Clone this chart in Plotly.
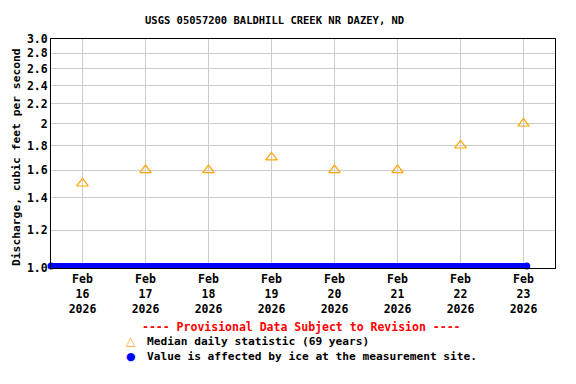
import plotly.graph_objects as go
import numpy as np

# Data
median_dates = ["2026-02-16", "2026-02-17", "2026-02-18", "2026-02-19",
                "2026-02-20", "2026-02-21", "2026-02-22", "2026-02-23"]
median_values = [1.5, 1.6, 1.6, 1.7, 1.6, 1.6, 1.8, 2.0]

ice_times = ["2026-02-15 12:00", "2026-02-23 01:15"]
ice_values = [1.01, 1.01]

y_tick_vals = [1.0, 1.2, 1.4, 1.6, 1.8, 2.0, 2.2, 2.4, 2.6, 2.8, 3.0]
y_tick_text = ["1.0", "1.2", "1.4", "1.6", "1.8", "2", "2.2", "2.4", "2.6", "2.8", "3.0"]
x_tick_vals = median_dates
x_tick_text = ["Feb<br>%d<br>2026" % d for d in range(16, 24)]

FONT = "DejaVu Sans Mono"

fig = go.Figure()
fig.add_trace(go.Scatter(
    x=ice_times, y=ice_values, mode="lines+markers",
    line=dict(color="#0000ff", width=6),
    marker=dict(color="#0000ff", size=7, symbol="circle"),
    cliponaxis=False, showlegend=False, hoverinfo="skip"))
fig.add_trace(go.Scatter(
    x=median_dates, y=median_values, mode="markers",
    marker=dict(symbol="triangle-up-open", color="#ffa500", size=10,
                line=dict(width=1.2, color="#ffa500")),
    showlegend=False))

# page body has an 8px default margin; figure sized to fit the 576x384 window
fig.update_layout(
    width=568, height=376,
    margin=dict(l=43, r=21, t=31, b=116, autoexpand=False),
    paper_bgcolor="white", plot_bgcolor="white",
    font=dict(family=FONT, size=11.5, color="black"),
    showlegend=False,
    xaxis=dict(
        type="date", range=["2026-02-15 12:00", "2026-02-23 12:00"],
        tickvals=x_tick_vals, ticktext=x_tick_text, automargin=False,
        showgrid=True, gridcolor="#cccccc", gridwidth=1,
        showline=True, linecolor="black", linewidth=1, mirror=True,
        ticks="", tickfont=dict(family=FONT, size=11.5, color="black", weight="bold"),
        zeroline=False),
    yaxis=dict(
        type="log", range=[np.log10(1.0), np.log10(3.0)],
        tickvals=y_tick_vals, ticktext=y_tick_text, automargin=False,
        showgrid=True, gridcolor="#cccccc", gridwidth=1,
        showline=True, linecolor="black", linewidth=1, mirror=True,
        ticks="", ticklen=0,
        tickfont=dict(family=FONT, size=11.5, color="black", weight="bold"),
        zeroline=False),
)

def py(px):
    # convert screen pixel y to paper coordinates
    return (268 - px) / 229.0

def pxx(px):
    return (px - 51) / 504.0

fig.add_annotation(text="USGS 05057200 BALDHILL CREEK NR DAZEY, ND",
                   xref="paper", yref="paper", x=pxx(274), y=py(20),
                   xanchor="center", yanchor="middle", showarrow=False,
                   font=dict(family=FONT, size=10.5, color="black", weight="bold"))
fig.add_annotation(text="Discharge, cubic feet per second",
                   xref="paper", yref="paper", x=pxx(16), y=py(157), textangle=-90,
                   xanchor="center", yanchor="middle", showarrow=False,
                   font=dict(family=FONT, size=11.3, color="black", weight="bold"))
fig.add_annotation(text="---- Provisional Data Subject to Revision ----",
                   xref="paper", yref="paper", x=pxx(301), y=py(327),
                   xanchor="center", yanchor="middle", showarrow=False,
                   font=dict(family=FONT, size=11.5, color="#ff0000", weight="bold"))
fig.add_annotation(text="△", xref="paper", yref="paper", x=pxx(131), y=py(341),
                   xanchor="center", yanchor="middle", showarrow=False,
                   font=dict(family="DejaVu Sans", size=12, color="#ffa500"))
fig.add_annotation(text="Median daily statistic (69 years)",
                   xref="paper", yref="paper", x=pxx(145), y=py(341),
                   xanchor="left", yanchor="middle", showarrow=False,
                   font=dict(family=FONT, size=11.2, color="black", weight="bold"))
fig.add_annotation(text="●", xref="paper", yref="paper", x=pxx(131), y=py(356),
                   xanchor="center", yanchor="middle", showarrow=False,
                   font=dict(family="DejaVu Sans", size=11, color="#0000ff"))
fig.add_annotation(text="Value is affected by ice at the measurement site.",
                   xref="paper", yref="paper", x=pxx(145), y=py(356),
                   xanchor="left", yanchor="middle", showarrow=False,
                   font=dict(family=FONT, size=11.2, color="black", weight="bold"))

fig.write_html("out.html")
